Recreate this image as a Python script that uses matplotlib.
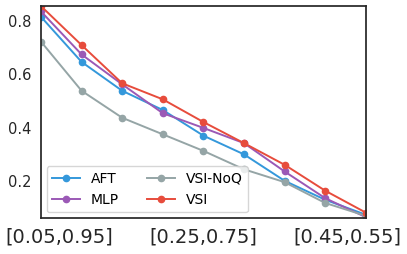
import matplotlib
matplotlib.use("Agg")
import matplotlib.pyplot as plt
import numpy as np

intervals = ["[0.05,0.95]", "[0.1,0.9]", "[0.15,0.85]", "[0.2,0.8]", "[0.25,0.75]",
             "[0.3,0.7]", "[0.35,0.65]", "[0.4,0.6]", "[0.45,0.55]"]
aft = [0.815, 0.646, 0.538, 0.466, 0.370, 0.300, 0.201, 0.130, 0.074]
mlp = [0.835, 0.674, 0.562, 0.454, 0.399, 0.342, 0.236, 0.136, 0.065]
vsi_noq = [0.722, 0.538, 0.437, 0.375, 0.313, 0.244, 0.196, 0.118, 0.070]
vsi = [0.855, 0.709, 0.566, 0.506, 0.421, 0.342, 0.261, 0.164, 0.082]

tick_pos = [0.45, 4, 7.55]
tick_labels = [intervals[0], intervals[4], intervals[8]]

x = np.arange(len(intervals))

fig = plt.figure(figsize=(4.07, 2.54), dpi=100)
ax = fig.add_axes([0.1007, 0.142, 0.798, 0.834])

ax.plot(x, aft, marker="o", ms=4.5, lw=1.4, color="#3498db", label="AFT")
ax.plot(x, mlp, marker="o", ms=4.5, lw=1.4, color="#9b59b6", label="MLP")
ax.plot(x, vsi_noq, marker="o", ms=4.5, lw=1.4, color="#95a5a6", label="VSI-NoQ")
ax.plot(x, vsi, marker="o", ms=4.5, lw=1.4, color="#e74c3c", label="VSI")

ax.set_xlim(0, 8)
ax.set_ylim(0.062, 0.855)
ax.set_xticks(tick_pos)
ax.set_xticklabels(tick_labels, fontsize=14, color=".15")
ax.set_yticks([0.2, 0.4, 0.6, 0.8])
ax.set_yticklabels(["0.2", "0.4", "0.6", "0.8"], fontsize=10.5, color=".15")
ax.tick_params(length=0, pad=7)
for s in ax.spines.values():
    s.set_color(".15")
    s.set_linewidth(1.25)

leg = ax.legend(loc="lower left", ncol=2, fontsize=10, frameon=True, fancybox=True,
                columnspacing=2.0, borderaxespad=0.4)
leg.get_frame().set_edgecolor("#cccccc")

fig.savefig("out.png", dpi=100)
